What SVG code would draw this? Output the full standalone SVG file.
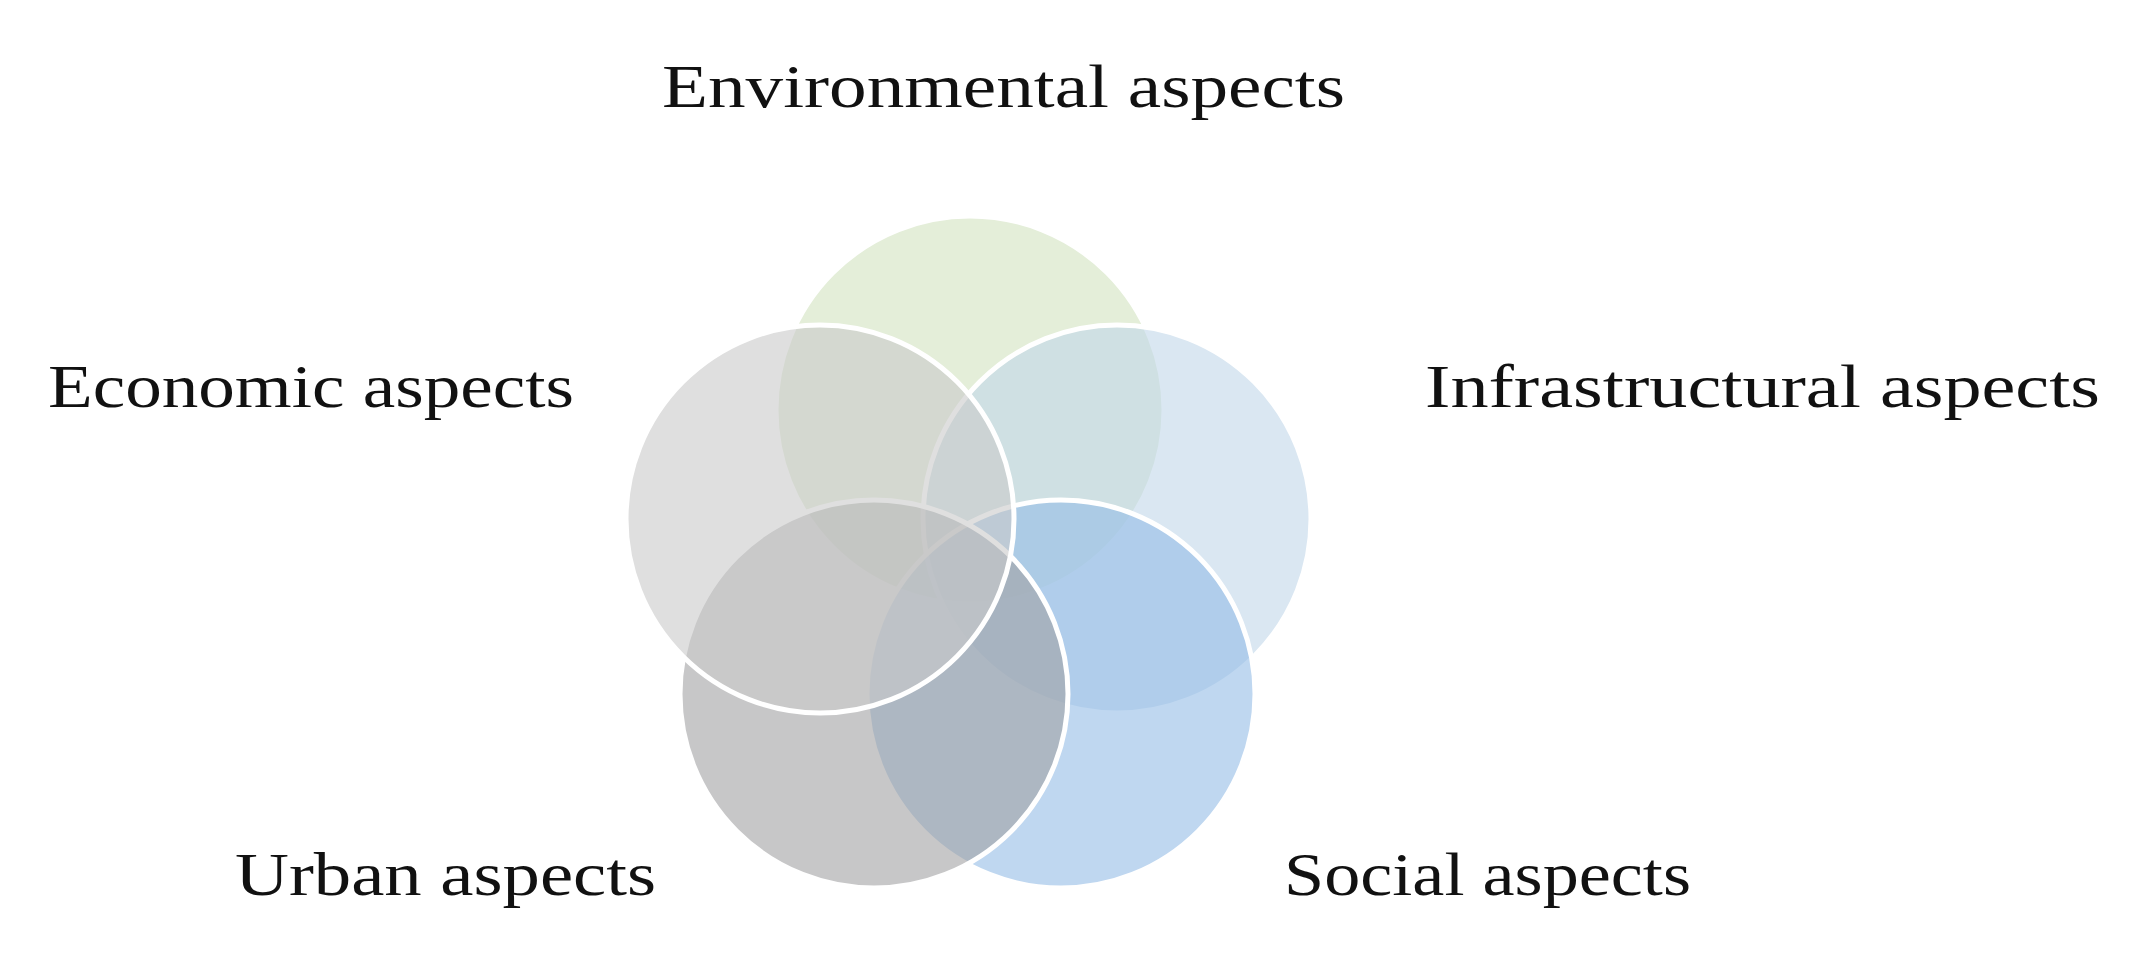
<svg xmlns="http://www.w3.org/2000/svg" width="2142" height="960" viewBox="0 0 2142 960">
<style>
.c{stroke:#fff;stroke-width:5;fill-opacity:0.6}
.t{font-family:"Liberation Serif",serif;font-size:62px;fill:#111}
</style>
<rect width="2142" height="960" fill="#fff"/>
<g id="env"><circle class="c" cx="970" cy="410" r="194" fill="#d2e2c0"/></g>
<g id="infra"><circle class="c" cx="1117" cy="519" r="194" fill="#c2d7ea"/></g>
<g id="social"><circle class="c" cx="1061" cy="694" r="194" fill="#94bde6"/></g>
<g id="urban"><circle class="c" cx="874" cy="694" r="194" fill="#a2a2a4" stroke="none"/></g>
<g id="econ"><circle class="c" cx="820" cy="519" r="194" fill="#c9c9c9"/></g>
<g id="labels">
<text class="t" x="662" y="107" textLength="683" lengthAdjust="spacingAndGlyphs">Environmental aspects</text>
<text class="t" x="48" y="407" textLength="526" lengthAdjust="spacingAndGlyphs">Economic aspects</text>
<text class="t" x="1425" y="407" textLength="675" lengthAdjust="spacingAndGlyphs">Infrastructural  aspects</text>
<text class="t" x="235" y="895" textLength="421" lengthAdjust="spacingAndGlyphs">Urban aspects</text>
<text class="t" x="1284" y="895" textLength="407" lengthAdjust="spacingAndGlyphs">Social aspects</text>
</g>
<g id="connectors"/>
</svg>
